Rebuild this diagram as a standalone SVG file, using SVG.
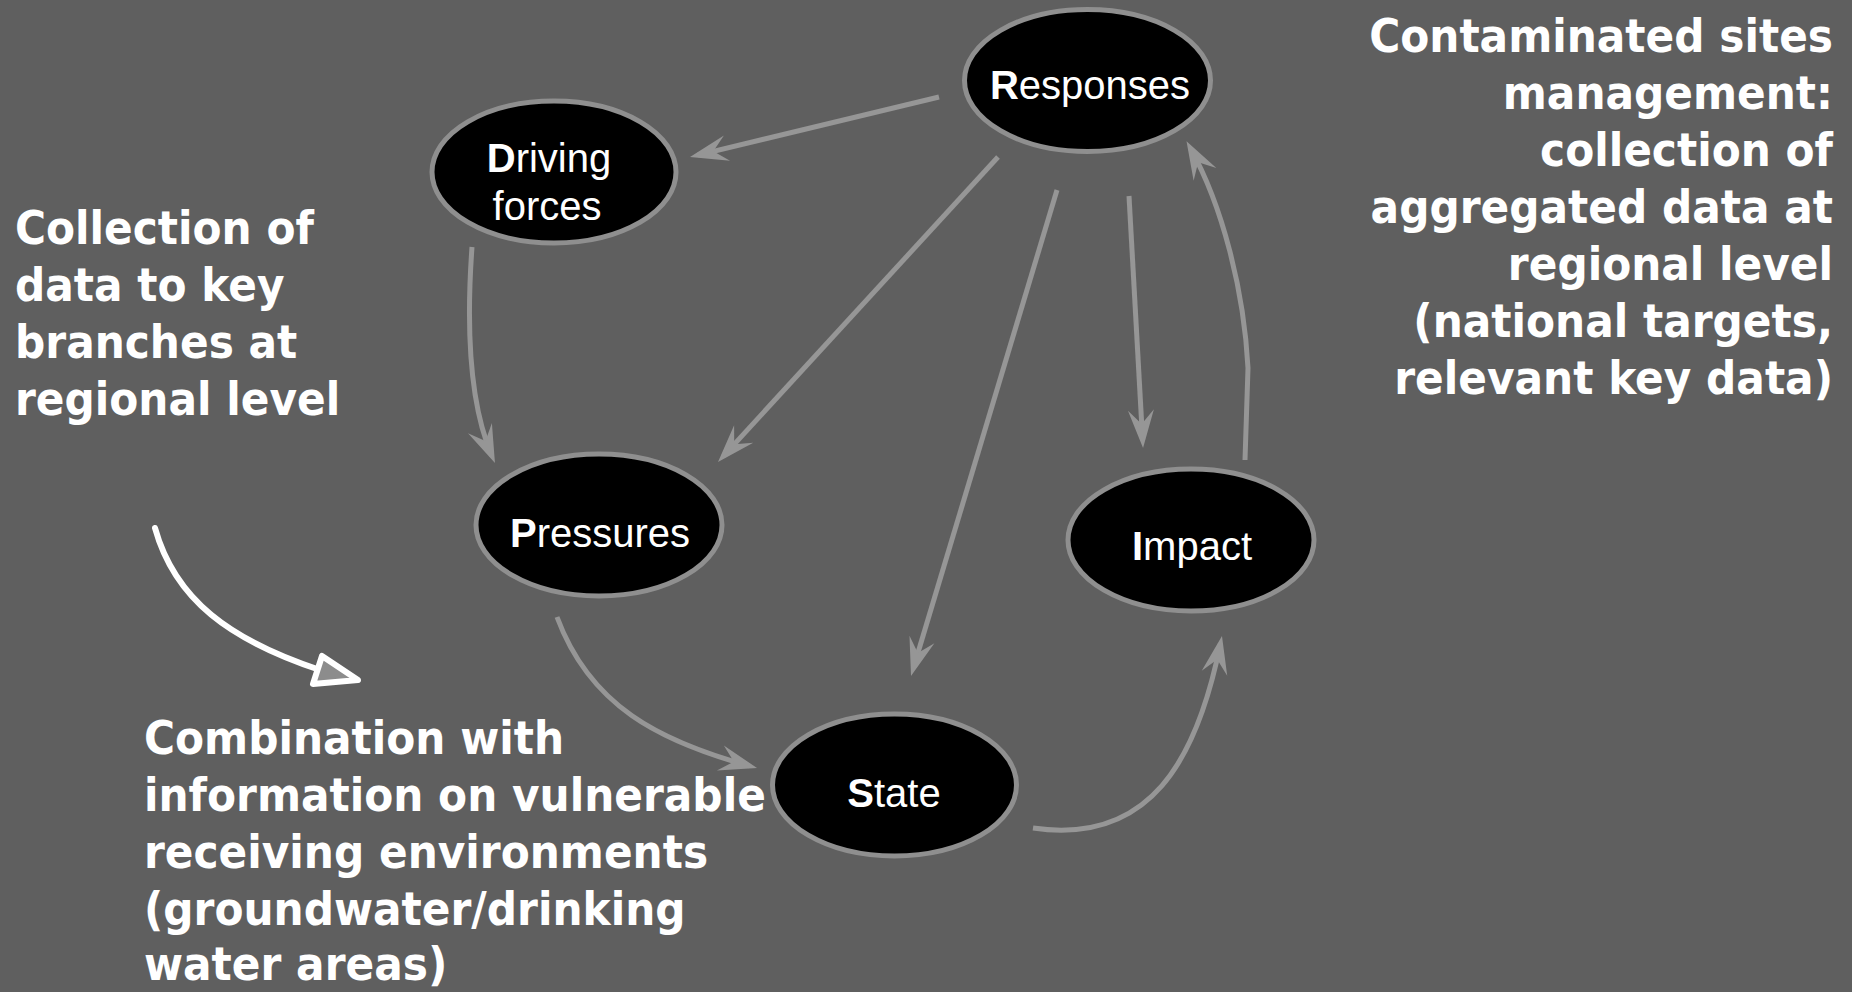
<svg xmlns="http://www.w3.org/2000/svg" width="1852" height="992" viewBox="0 0 1852 992">
<defs>
<style>
.node ellipse{fill:#000;stroke:#8f8f8f;stroke-width:5}
.lbl{font-family:"Liberation Sans",Arial,sans-serif;font-size:40px;fill:#fff;text-anchor:middle}
.lbl tspan.b{font-weight:bold}
.con{fill:none;stroke:#969696;stroke-width:5;stroke-linecap:butt}
.note{font-family:"DejaVu Sans",Verdana,sans-serif;font-weight:bold;font-size:47px;fill:#fff}
.r{text-anchor:end}
</style>
<marker id="ah" markerUnits="userSpaceOnUse" orient="auto" refX="0" refY="0" markerWidth="1" markerHeight="1" overflow="visible">
<path d="M8,0 L-30,-13 L-16,0 L-30,13 Z" fill="#969696"/>
</marker>
</defs>
<rect width="1852" height="992" fill="#5f5f5f"/>

<g id="connectors">
<path class="con" d="M939,97 L697.8,155.1" marker-end="url(#ah)"/>
<path class="con" d="M998,157 L723.4,456.1" marker-end="url(#ah)"/>
<path class="con" d="M1057,190 L913.3,668.3" marker-end="url(#ah)"/>
<path class="con" d="M1129,196 L1142.6,440" marker-end="url(#ah)"/>
<path class="con" d="M1245,460 L1248,368 C1244,290 1222,205 1190.4,148.2" marker-end="url(#ah)"/>
<path class="con" d="M472,247 C466,330 470,405 491.8,455.7" marker-end="url(#ah)"/>
<path class="con" d="M557,617 C590,706 659,741 749.3,765.9" marker-end="url(#ah)"/>
<path class="con" d="M1033,828 C1150,845 1197,760 1220.4,643.8" marker-end="url(#ah)"/>
</g>

<g id="note-arrow">
<path d="M155,528 C175,600 230,640 320,670" fill="none" stroke="#fff" stroke-width="6" stroke-linecap="round"/>
<polygon points="358,680 322,656 313,684" fill="#8c8c8c" stroke="#fff" stroke-width="6" stroke-linejoin="round"/>
</g>

<g id="node-responses" class="node">
<ellipse cx="1087.5" cy="80.5" rx="123" ry="71"/>
<text class="lbl" x="1090" y="99"><tspan class="b">R</tspan>esponses</text>
</g>
<g id="node-driving" class="node">
<ellipse cx="554" cy="172" rx="122" ry="71"/>
<text class="lbl" x="549" y="172"><tspan class="b">D</tspan>riving</text>
<text class="lbl" x="547" y="220">forces</text>
</g>
<g id="node-pressures" class="node">
<ellipse cx="599" cy="525" rx="123" ry="71"/>
<text class="lbl" x="600" y="547"><tspan class="b">P</tspan>ressures</text>
</g>
<g id="node-impact" class="node">
<ellipse cx="1191" cy="540" rx="123" ry="71"/>
<text class="lbl" x="1192" y="560"><tspan class="b">I</tspan>mpact</text>
</g>
<g id="node-state" class="node">
<ellipse cx="894.5" cy="785" rx="122" ry="71"/>
<text class="lbl" x="894" y="807"><tspan class="b">S</tspan>tate</text>
</g>

<g id="note-left" transform="translate(15,0) scale(0.9,1)">
<text class="note" x="0" y="244">Collection of</text>
<text class="note" x="0" y="301">data to key</text>
<text class="note" x="0" y="358">branches at</text>
<text class="note" x="0" y="415">regional level</text>
</g>

<g id="note-right" transform="translate(1833,0) scale(0.9,1)">
<text class="note r" x="0" y="52">Contaminated sites</text>
<text class="note r" x="0" y="109">management:</text>
<text class="note r" x="0" y="166">collection of</text>
<text class="note r" x="0" y="223">aggregated data at</text>
<text class="note r" x="0" y="280">regional level</text>
<text class="note r" x="0" y="337">(national targets,</text>
<text class="note r" x="0" y="394">relevant key data)</text>
</g>

<g id="note-bottom" transform="translate(144,0) scale(0.9,1)">
<text class="note" x="0" y="754">Combination with</text>
<text class="note" x="0" y="811">information on vulnerable</text>
<text class="note" x="0" y="868">receiving environments</text>
<text class="note" x="0" y="925">(groundwater/drinking</text>
<text class="note" x="0" y="980">water areas)</text>
</g>
</svg>
